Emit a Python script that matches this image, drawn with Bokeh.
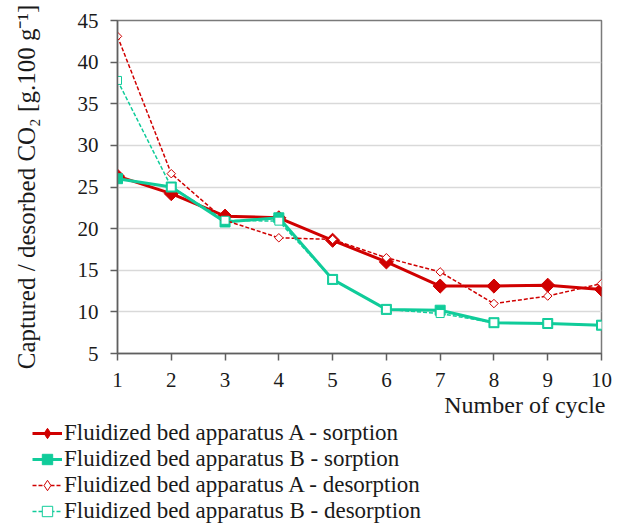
import math
from bokeh.plotting import figure
from bokeh.layouts import column
from bokeh.models import Range1d, FixedTicker, Legend, LegendItem, Title, ColumnDataSource
from bokeh.embed import file_html
from bokeh.resources import INLINE

cycles = [1, 2, 3, 4, 5, 6, 7, 8, 9, 10]
a_sorption = [26.3, 24.2, 21.5, 21.3, 18.6, 16.0, 13.1, 13.1, 13.2, 12.7]
b_sorption = [26.0, 25.0, 20.8, 21.3, 13.9, 10.3, 10.2, 8.7, 8.6, 8.4]
a_desorption = [43.1, 26.6, 21.0, 18.9, 18.7, 16.5, 14.8, 11.0, 11.9, 13.4]
b_desorption = [37.8, 25.0, 21.0, 20.9, 13.9, 10.3, 9.8, 8.7, 8.6, 8.4]
y_ticks = [5, 10, 15, 20, 25, 30, 35, 40, 45]
labels = ["Fluidized bed apparatus A - sorption",
          "Fluidized bed apparatus B - sorption",
          "Fluidized bed apparatus A - desorption",
          "Fluidized bed apparatus B - desorption"]

RED = "#d00000"
TEAL = "#10cc9a"
FONT = "Liberation Serif"
AXIS = "#5f5f5f"
TXT = "#1a1a1a"
ROT = math.pi / 4

src = ColumnDataSource(data=dict(x=cycles, a_s=a_sorption, b_s=b_sorption,
                                 a_d=a_desorption, b_d=b_desorption))

p = figure(width=620, height=420, output_backend="svg", toolbar_location=None,
           x_range=Range1d(1, 10), y_range=Range1d(5, 45),
           min_border_left=117, min_border_right=19, min_border_top=20,
           min_border_bottom=67)
p.frame_align = False

p.outline_line_color = "#7a7a7a"
p.outline_line_width = 1.5
p.xgrid.grid_line_color = None
p.ygrid.grid_line_color = "#d9d9d9"
p.ygrid.grid_line_width = 1.5

p.xaxis.ticker = FixedTicker(ticks=cycles)
p.yaxis.ticker = FixedTicker(ticks=y_ticks)
for ax in (p.xaxis[0], p.yaxis[0]):
    ax.axis_line_color = AXIS
    ax.axis_line_width = 1.5
    ax.major_tick_line_color = AXIS
    ax.major_tick_line_width = 1.5
    ax.major_tick_in = 0
    ax.major_tick_out = 7
    ax.minor_tick_line_color = None
    ax.major_label_text_font = FONT
    ax.major_label_text_font_size = "21px"
    ax.major_label_text_color = TXT
    ax.axis_label_text_font = FONT
    ax.axis_label_text_font_size = "25px"
    ax.axis_label_text_font_style = "normal"
    ax.axis_label_text_color = TXT

p.xaxis.major_label_standoff = 12
p.yaxis.major_label_standoff = 12
p.yaxis.axis_label = "Captured / desorbed CO\u2082 [g.100 g\u207b\u00b9]"
p.yaxis.axis_label_standoff = 35

xtitle = Title(text="Number of cycle", align="right", text_font=FONT,
               text_font_size="24px", text_font_style="normal",
               text_color=TXT, standoff=0, offset=-4)
p.add_layout(xtitle, "below")


def draw(fig, for_legend=False):
    dia = dict(marker="diamond") if for_legend else dict(marker="square", angle=ROT)
    r1 = fig.line("x", "a_s", source=src, line_color=RED, line_width=3)
    k1 = fig.scatter("x", "a_s", source=src, size=13 if for_legend else 10,
                     fill_color=RED, line_color=RED, **dia)
    r2 = fig.line("x", "b_s", source=src, line_color=TEAL, line_width=3)
    k2 = fig.scatter("x", "b_s", source=src, marker="square", size=9 if for_legend else 10,
                     fill_color=TEAL, line_color=TEAL)
    r3 = fig.line("x", "a_d", source=src, line_color=RED, line_width=1.5, line_dash="4 2")
    k3 = fig.scatter("x", "a_d", source=src, size=9 if for_legend else 6,
                     fill_color="white", line_color=RED, line_width=1, **dia)
    r4 = fig.line("x", "b_d", source=src, line_color=TEAL, line_width=1.5, line_dash="4 2")
    k4 = fig.scatter("x", "b_d", source=src, marker="square", size=8,
                     fill_color="white", line_color=TEAL, line_width=1)
    return [(r1, k1), (r2, k2), (r3, k3), (r4, k4)]


draw(p)

# legend panel below the chart (its own canvas so the legend can sit left of the axis)
p2 = figure(width=620, height=104, output_backend="svg", toolbar_location=None,
            x_range=Range1d(100, 101), y_range=Range1d(100, 101),
            x_axis_type=None, y_axis_type=None,
            min_border_left=0, min_border_right=0, min_border_top=0,
            min_border_bottom=0)
p2.frame_align = False
p2.outline_line_color = None
p2.xgrid.grid_line_color = None
p2.ygrid.grid_line_color = None
pairs = draw(p2, for_legend=True)

legend = Legend(items=[LegendItem(label=lab, renderers=list(pr))
                       for lab, pr in zip(labels, pairs)],
                location=(32, 0), orientation="vertical")
legend.label_text_font = FONT
legend.label_text_font_size = "23px"
legend.label_text_color = TXT
legend.border_line_color = None
legend.background_fill_alpha = 0
legend.glyph_width = 30
legend.glyph_height = 26
legend.label_height = 26
legend.label_standoff = 2
legend.spacing = 0
legend.padding = 0
legend.margin = 0
p2.add_layout(legend, "center")

layout = column(p, p2, spacing=0)
open("out.html", "w").write(file_html(layout, INLINE))
